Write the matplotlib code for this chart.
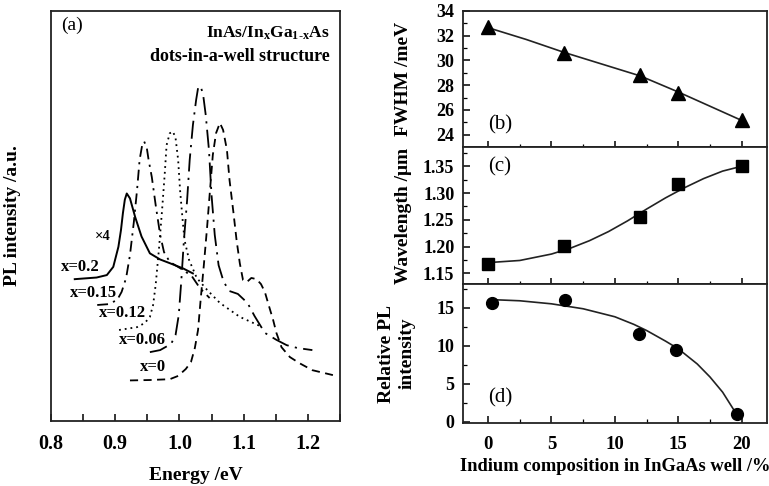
import matplotlib
matplotlib.use('Agg')
import matplotlib.pyplot as plt
from matplotlib.ticker import MultipleLocator

plt.rcParams['font.family'] = ['Liberation Serif', 'DejaVu Serif']
plt.rcParams['mathtext.fontset'] = 'custom'
plt.rcParams['mathtext.rm'] = 'Liberation Serif:bold'
plt.rcParams['mathtext.bf'] = 'Liberation Serif:bold'
plt.rcParams['mathtext.default'] = 'rm'

# ---- (a) PL spectra (energy in eV, intensity in a.u.) ----
e_x020 = [0.837, 0.871, 0.887, 0.897, 0.905, 0.909, 0.912, 0.915, 0.918, 0.923, 0.931,
          0.941, 0.954, 0.970, 0.985, 1.006, 1.021]
i_x020 = [34.6, 35.0, 35.6, 37.6, 42.5, 46.6, 50.7, 54.0, 55.5, 54.3, 49.8,
          45.0, 40.9, 39.4, 38.5, 37.2, 36.0]

e_x015 = [0.872, 0.889, 0.903, 0.910, 0.917, 0.923, 0.929, 0.934, 0.938, 0.942, 0.945,
          0.949, 0.952, 0.957, 0.963, 0.970, 0.976, 0.985, 1.001, 1.019, 1.032, 1.047]
i_x015 = [28.3, 28.5, 29.5, 31.5, 34.9, 40.5, 48.5, 56.3, 63.7, 67.3, 68.2,
          66.8, 63.7, 59.5, 52.7, 45.4, 41.2, 38.8, 37.3, 35.4, 32.4, 30.0]

e_x012 = [0.906, 0.934, 0.946, 0.954, 0.959, 0.963, 0.968, 0.973, 0.977, 0.980, 0.985,
          0.990, 0.994, 0.998, 1.001, 1.005, 1.008, 1.015, 1.027, 1.043, 1.063, 1.094, 1.125]
i_x012 = [22.2, 22.9, 23.9, 25.4, 28.3, 33.2, 41.7, 51.5, 60.0, 67.3, 70.2,
          70.6, 69.0, 63.7, 56.3, 49.0, 44.1, 39.3, 34.9, 32.0, 28.8, 25.4, 23.2]

e_x006 = [0.954, 0.970, 0.987, 0.994, 0.999, 1.003, 1.007, 1.012, 1.016, 1.021, 1.026,
          1.029, 1.033, 1.037, 1.041, 1.046, 1.050, 1.055, 1.061, 1.069, 1.078, 1.091,
          1.106, 1.117, 1.133, 1.151, 1.167, 1.184, 1.207]
i_x006 = [16.8, 17.3, 18.8, 21.0, 25.9, 34.4, 44.1, 53.9, 63.7, 72.2, 78.3,
          81.2, 81.7, 79.5, 74.6, 66.1, 55.1, 45.4, 38.0, 33.9, 31.7, 31.0,
          28.8, 25.6, 21.5, 19.8, 18.5, 17.8, 17.3]

e_x000 = [0.923, 0.954, 0.985, 0.998, 1.010, 1.018, 1.024, 1.029, 1.033, 1.038, 1.043,
          1.047, 1.052, 1.057, 1.063, 1.068, 1.074, 1.078, 1.084, 1.089, 1.094, 1.099,
          1.105, 1.112, 1.120, 1.127, 1.133, 1.138, 1.146, 1.151, 1.159, 1.172, 1.187,
          1.207, 1.239]
i_x000 = [9.9, 10.0, 10.2, 11.0, 12.7, 14.4, 17.8, 22.2, 29.5, 38.0, 47.1,
          55.1, 64.9, 70.2, 72.7, 71.0, 66.1, 58.8, 51.0, 44.1, 38.5, 34.4,
          33.9, 34.9, 34.6, 33.4, 31.5, 28.8, 24.6, 21.5, 18.0, 15.6, 14.1,
          12.4, 11.2]

curve_labels = ['x=0.2', 'x=0.15', 'x=0.12', 'x=0.06', 'x=0']
label_pos = [(0.845, 37.6), (0.866, 31.3), (0.912, 26.3), (0.943, 19.8), (0.959, 13.2)]

# ---- (b)-(d) versus indium composition ----
indium = [0, 6, 12, 15, 20]
fwhm = [32.7, 30.6, 28.85, 27.35, 25.15]
wavelength = [1.168, 1.201, 1.256, 1.316, 1.350]
indium_d = [0.3, 6.1, 11.9, 14.8, 19.6]
rel_pl = [15.6, 16.0, 11.6, 9.5, 1.0]

# fit lines as drawn in the picture
fit_b_x = [0, 3, 6, 9, 12, 15, 17.5, 20]
fit_b_y = [32.65, 31.7, 30.65, 29.7, 28.75, 27.45, 26.3, 25.15]
fit_c_x = [0, 2.5, 5, 6.5, 8, 9.5, 11, 12.5, 14, 15.5, 17, 18.5, 20]
fit_c_y = [1.170, 1.174, 1.186, 1.197, 1.211, 1.228, 1.248, 1.270, 1.291, 1.310,
           1.327, 1.341, 1.350]
fit_d_x = [0.3, 2.5, 5, 7.5, 10, 11.5, 12.5, 14, 15, 16.5, 17.5, 18.5, 19.6]
fit_d_y = [16.05, 15.9, 15.5, 14.85, 13.8, 12.8, 12.0, 10.6, 9.6, 7.6, 5.9, 3.9, 1.0]

fig = plt.figure(figsize=(7.69, 4.86), dpi=100)

# ---------------- panel (a) ----------------
ax = fig.add_axes([0.0663, 0.1337, 0.3758, 0.8436])
ax.plot(e_x020, i_x020, color='black', lw=1.4, ls='-')
ax.plot(e_x015, i_x015, color='black', lw=1.3, ls=(0, (6, 3, 1.2, 3)))
ax.plot(e_x012, i_x012, color='black', lw=1.3, ls=(0, (1, 2.2)))
ax.plot(e_x006, i_x006, color='black', lw=1.3, ls=(0, (10, 3.5, 1.2, 3.5)))
ax.plot(e_x000, i_x000, color='black', lw=1.3, ls=(0, (4.5, 3)))
for lab, (ex, iy) in zip(curve_labels, label_pos):
    ax.text(ex, iy, lab, fontsize=12, fontweight='bold', ha='center', va='center')
ax.text(0.881, 45.1, '×4', fontsize=10.5, fontweight='bold', ha='center', va='center')
ax.text(0.035, 0.965, '(a)', transform=ax.transAxes, fontsize=14, ha='left', va='center')
ax.text(0.965, 0.945, r'InAs/In$_{x}$Ga$_{1\text{-}x}$As', transform=ax.transAxes,
        fontsize=12.5, fontweight='bold', ha='right', va='center')
ax.text(0.965, 0.89, 'dots-in-a-well structure', transform=ax.transAxes,
        fontsize=13, fontweight='bold', ha='right', va='center')
ax.set_xlim(0.8, 1.25)
ax.set_ylim(0, 100)
ax.xaxis.set_minor_locator(MultipleLocator(0.05))
ax.set_xticks([0.8, 0.9, 1.0, 1.1, 1.2])
ax.set_xticklabels(['0.8', '0.9', '1.0', '1.1', '1.2'])
ax.tick_params(axis='x', which='both', direction='in', length=5, width=1.1,
               labelsize=14.5, pad=9)
ax.tick_params(axis='y', left=False, labelleft=False)
for lbl in ax.get_xticklabels():
    lbl.set_fontweight('bold')
ax.set_xlabel('Energy /eV', fontsize=14, fontweight='bold', labelpad=10)
ax.set_ylabel('PL intensity /a.u.', fontsize=14, fontweight='bold')
ax.yaxis.set_label_coords(-0.105, 0.5)
for sp in ax.spines.values():
    sp.set_linewidth(1.3)
    sp.set_color('#222222')

# ---------------- panels (b)-(d) ----------------
left, width = 0.6017, 0.3957
axb = fig.add_axes([left, 0.6975, width, 0.2799])
axc = fig.add_axes([left, 0.4156, width, 0.2819], sharex=axb)
axd = fig.add_axes([left, 0.1296, width, 0.2860], sharex=axb)

axb.plot(fit_b_x, fit_b_y, color='#222222', lw=1.2)
axb.plot(indium, fwhm, ls='none', marker='^', ms=10, color='black')
axb.set_ylim(23, 34)
axb.yaxis.set_major_locator(MultipleLocator(2))
axb.yaxis.set_minor_locator(MultipleLocator(1))
axb.set_ylabel('FWHM /meV', fontsize=14, fontweight='bold')
axb.text(0.085, 0.16, '(b)', transform=axb.transAxes, fontsize=15, ha='left', va='center')

axc.plot(fit_c_x, fit_c_y, color='#222222', lw=1.2)
axc.plot(indium, wavelength, ls='none', marker='s', ms=8, color='black')
axc.set_ylim(1.13, 1.386)
axc.set_yticks([1.15, 1.20, 1.25, 1.30, 1.35])
axc.set_yticklabels(['1.15', '1.20', '1.25', '1.30', '1.35'])
axc.yaxis.set_minor_locator(MultipleLocator(0.025))
axc.set_ylabel('Wavelength /μm', fontsize=14, fontweight='bold')
axc.text(0.085, 0.855, '(c)', transform=axc.transAxes, fontsize=15, ha='left', va='center')

axd.plot(fit_d_x, fit_d_y, color='#222222', lw=1.2)
axd.plot(indium_d, rel_pl, ls='none', marker='o', ms=8.5, color='black')
axd.set_ylim(-0.15, 18.1)
axd.yaxis.set_major_locator(MultipleLocator(5))
axd.yaxis.set_minor_locator(MultipleLocator(2.5))
axd.set_ylabel('Relative PL\nintensity', fontsize=14, fontweight='bold', linespacing=1.25)
axd.text(0.085, 0.18, '(d)', transform=axd.transAxes, fontsize=15, ha='left', va='center')

axb.set_xlim(-2, 22)
axb.xaxis.set_major_locator(MultipleLocator(5))
axb.xaxis.set_minor_locator(MultipleLocator(2.5))
axd.set_xlabel('Indium composition in InGaAs well /%', fontsize=13.3, fontweight='bold',
               labelpad=4)

for a in (axb, axc, axd):
    a.tick_params(axis='y', which='major', direction='in', length=5, width=1.1,
                  labelsize=13, pad=6)
    a.tick_params(axis='y', which='minor', direction='in', length=3, width=0.9)
    for lbl in a.get_yticklabels():
        lbl.set_fontweight('bold')
    for sp in a.spines.values():
        sp.set_linewidth(1.3)
        sp.set_color('#222222')
for a in (axb, axc):
    a.tick_params(axis='x', which='major', direction='inout', length=9, width=1.1,
                  labelbottom=False)
    a.tick_params(axis='x', which='minor', direction='inout', length=5, width=0.9)
axd.tick_params(axis='x', which='major', direction='in', length=5, width=1.1,
                labelsize=13.5, pad=9)
axd.tick_params(axis='x', which='minor', direction='in', length=3, width=0.9)
for lbl in axd.get_xticklabels():
    lbl.set_fontweight('bold')

axb.yaxis.set_label_coords(-0.165, 0.5)
axc.yaxis.set_label_coords(-0.165, 0.5)
axd.yaxis.set_label_coords(-0.155, 0.5)

fig.savefig('out.png', dpi=100)
